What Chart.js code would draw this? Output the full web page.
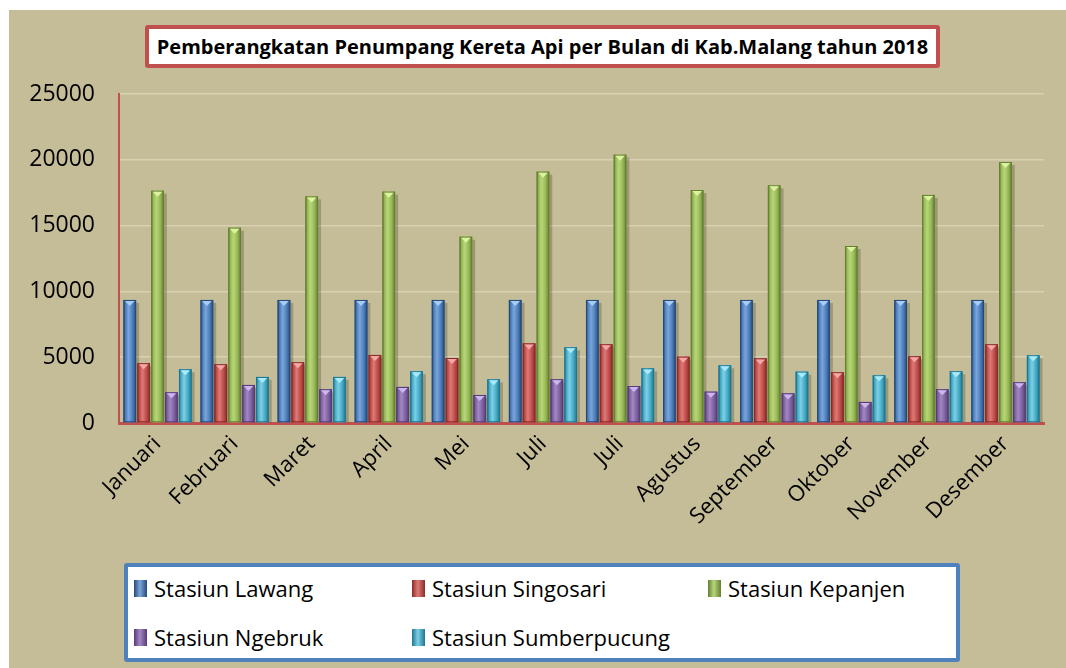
<!DOCTYPE html>
<html>
<head>
<meta charset="utf-8">
<script src="https://cdn.jsdelivr.net/npm/chart.js@4.4.1/dist/chart.umd.min.js"></script>
<style>
  html, body { margin: 0; padding: 0; background: #ffffff; width: 1066px; height: 668px; overflow: hidden; }
  #bg { position: absolute; left: 9px; top: 10px; width: 1057px; height: 658px; background: #C4BD97; }
  #wrap { position: absolute; left: 0; top: 0; width: 1057px; height: 658px; }
  #title { position: absolute; left: 136px; top: 15px; width: 787px; height: 35px; background: #fff;
           border: 4px solid #C0504D; border-radius: 3px; font-family: "Open Sans", sans-serif; font-weight: bold;
           font-size: 20px; color: #000; text-align: center; line-height: 35px; white-space: nowrap; }
  #legend { position: absolute; left: 115px; top: 553px; width: 828px; height: 91px; background: #fff;
            border: 4px solid #4F81BD; border-radius: 3px; font-family: "Open Sans", sans-serif; font-size: 22px; color: #000; }
  .li { position: absolute; display: flex; align-items: center; white-space: nowrap; }
  .mk { width: 13px; height: 17px; margin-right: 7px; }
</style>
</head>
<body>
<div id="bg">
  <div id="wrap"><canvas id="c" width="1057" height="658"></canvas></div>
  <div id="title"></div>
  <div id="legend"></div>
</div>
<script>
const chartTitle = 'Pemberangkatan Penumpang Kereta Api per Bulan di Kab.Malang tahun 2018';
const categories = ['Januari','Februari','Maret','April','Mei','Juli','Juli','Agustus','September','Oktober','November','Desember'];
const seriesNames = ['Stasiun Lawang','Stasiun Singosari','Stasiun Kepanjen','Stasiun Ngebruk','Stasiun Sumberpucung'];
const lawang = [9350, 9350, 9350, 9350, 9350, 9350, 9350, 9350, 9350, 9350, 9350, 9350];
const singosari = [4540, 4460, 4610, 5170, 4940, 6050, 5980, 5040, 4910, 3850, 5070, 5980];
const kepanjen = [17650, 14840, 17220, 17580, 14160, 19100, 20390, 17700, 18060, 13450, 17330, 19830];
const ngebruk = [2330, 2890, 2560, 2740, 2130, 3320, 2810, 2380, 2250, 1600, 2560, 3090];
const sumberpucung = [4080, 3500, 3500, 3930, 3320, 5750, 4150, 4380, 3900, 3620, 3930, 5140];
const yTickMax = 25000;
const yTickStep = 5000;

const baseColors = ['#4F81BD', '#C0504D', '#9BBB59', '#8064A2', '#4BACC6'];
const darkColors = ['#264A78', '#8A2B28', '#647F32', '#553C78', '#1E7690'];
const lightColors = ['#7BA5DC', '#DD7A77', '#B7D67A', '#A287C4', '#7CD0E6'];
const capColors = ['#A9CCF5', '#F2A8A6', '#DDF2A0', '#CDB6EC', '#A9EBFA'];

document.getElementById('title').textContent = chartTitle;

const seriesValues = [lawang, singosari, kepanjen, ngebruk, sumberpucung];

const cylinderPlugin = {
  id: 'cylinder',
  afterDatasetsDraw(chart) {
    const ctx = chart.ctx;
    ctx.save();
    chart.data.datasets.forEach((ds, di) => {
      const meta = chart.getDatasetMeta(di);
      meta.data.forEach(bar => {
        const w = bar.width, l = bar.x - w / 2, r = bar.x + w / 2, t = bar.y, b = bar.base;
        ctx.fillStyle = 'rgba(60,55,30,0.28)';
        ctx.fillRect(r, t + 3, 3, b - t - 3);
        const g = ctx.createLinearGradient(l, 0, r, 0);
        g.addColorStop(0, darkColors[di]);
        g.addColorStop(0.18, baseColors[di]);
        g.addColorStop(0.4, lightColors[di]);
        g.addColorStop(0.7, baseColors[di]);
        g.addColorStop(1, darkColors[di]);
        ctx.fillStyle = g;
        ctx.fillRect(l, t, w, b - t);
        ctx.strokeStyle = darkColors[di];
        ctx.lineWidth = 1;
        ctx.strokeRect(l + 0.5, t + 0.5, w - 1, b - t - 1);
        ctx.fillStyle = capColors[di];
        ctx.beginPath();
        ctx.moveTo(l + 1.5, t + 1);
        ctx.lineTo(r - 1.5, t + 1);
        ctx.lineTo(bar.x, t + 6);
        ctx.closePath();
        ctx.fill();
      });
    });
    ctx.restore();
  }
};

const chart = new Chart(document.getElementById('c'), {
  type: 'bar',
  data: {
    labels: categories,
    datasets: seriesNames.map((n, i) => ({
      label: n,
      data: seriesValues[i],
      backgroundColor: baseColors[i],
      borderWidth: 0,
      categoryPercentage: 0.9,
      barPercentage: 0.91
    }))
  },
  options: {
    responsive: false,
    animation: false,
    devicePixelRatio: 1,
    layout: { padding: { top: 84, right: 22, left: 0, bottom: 0 } },
    plugins: { legend: { display: false }, title: { display: false }, tooltip: { enabled: false } },
    scales: {
      x: {
        grid: { display: false, drawTicks: false },
        border: { color: '#C0504D', width: 3 },
        ticks: {
          color: '#000', maxRotation: 45, minRotation: 45, padding: 8,
          font: { family: '"Open Sans", sans-serif', size: 22 }
        },
        afterFit(s) { s.height = 245; }
      },
      y: {
        min: 0, max: yTickMax,
        grid: { color: 'rgba(235,228,200,0.55)', lineWidth: 1.5, drawTicks: false },
        border: { color: '#C0504D', width: 2 },
        ticks: {
          stepSize: yTickStep, color: '#000', padding: 24,
          font: { family: '"Open Sans", sans-serif', size: 23 },
          callback: v => String(v)
        },
        afterFit(s) { s.width = 110; }
      }
    }
  },
  plugins: [cylinderPlugin]
});

const legend = document.getElementById('legend');
const colX = [6, 284, 580];
const rowY = [6, 55];
chart.data.datasets.forEach((ds, i) => {
  const d = document.createElement('div');
  d.className = 'li';
  d.style.left = colX[i % 3] + 'px';
  d.style.top = rowY[Math.floor(i / 3)] + 'px';
  const m = document.createElement('span');
  m.className = 'mk';
  m.style.background = 'linear-gradient(to right,' + darkColors[i] + ',' + lightColors[i] + ' 45%,' + darkColors[i] + ')';
  const t = document.createElement('span');
  t.textContent = ds.label;
  d.appendChild(m); d.appendChild(t);
  legend.appendChild(d);
});
</script>
</body>
</html>
